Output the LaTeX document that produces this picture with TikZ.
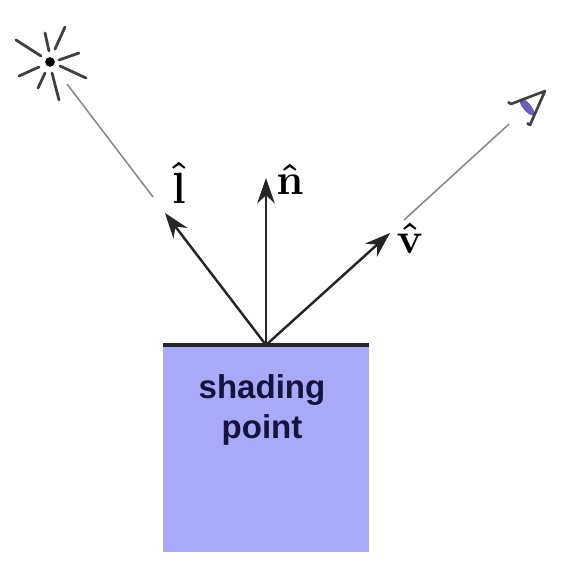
\documentclass[tikz,border=0pt]{standalone}
\usepackage{amsmath, fontspec}
\setsansfont{Liberation Sans}
\usepackage{tikz}
\usetikzlibrary{arrows.meta, positioning, shapes.geometric}
\definecolor{surface}{HTML}{A9A9F9}
\definecolor{labelnavy}{HTML}{14143C}
\definecolor{guide}{HTML}{8A8A8A}
\definecolor{iris}{HTML}{6A62B8}
\tikzset{
	ray/.style={line width=1.6pt, line cap=round, black!75},
	guideline/.style={line width=0.9pt, guide},
	vec/.style={-{Stealth[length=14.5pt, width=10pt]}, line width=1.4pt, black!85},
	veclabel/.style={inner sep=0pt, font=\fontsize{23}{23}\selectfont\boldmath},
}

\begin{document}
\begin{tikzpicture}[x=0.02cm, y=-0.02cm]
		\useasboundingbox (0,0) rectangle (586,569);
		
		\fill [surface] (163,345) rectangle (369,552);
		\coordinate (p) at (266,345);
		\draw [line width=1.9pt, black!85] (163,345)--(369,345);
		
		\node [align=center, text=labelnavy, font=\sffamily\bfseries\fontsize{18.8}{22.5}\selectfont] (shading) at (262,410) {shading\\point};
		
		\coordinate (ltip) at (165,213);
		\coordinate (ntip) at (266,178);
		\coordinate (vtip) at (390,233);
		\draw [vec] (p)--(ltip);
		\draw [vec] (p)--(ntip);
		\draw [vec] (p)--(vtip);
		
		\node [veclabel] (l) at (179,183) {$\hat{\mathbf{l}}$};
		\node [veclabel] (n) at (290,179) {$\hat{\mathbf{n}}$};
		\node [veclabel] (v) at (410,238) {$\hat{\mathbf{v}}$};
		
		% light
		\node [circle, fill=black, inner sep=0pt, minimum size=5.5pt] (sun) at (50,62) {};
		\draw [ray] (16,40)--(41,56);
		\draw [ray] (45,33)--(49,51);
		\draw [ray] (65,27)--(55,49);
		\draw [ray] (79,53)--(59,60);
		\draw [ray] (86,78)--(60,66);
		\draw [ray] (52,73)--(59,100);
		\draw [ray] (45,73)--(38,88);
		\draw [ray] (39,67)--(19,76);
		\coordinate (sunend) at (67,84);
		\coordinate (lend) at (153,197);
		\draw [guideline] (sunend)--(lend);
		
		% eye
		\node [ellipse, fill=iris, inner sep=0pt, minimum width=12pt, minimum height=4.5pt, rotate=-50] (eye) at (527,107) {};
		\draw [line width=1.5pt, black!75, line join=round] (508,102)--(511,104)--(545,91)--(530,125)--(527,123);
		\coordinate (eyeend) at (509,124);
		\coordinate (vend) at (404,220);
		\draw [guideline] (eyeend)--(vend);
\end{tikzpicture}
\end{document}
